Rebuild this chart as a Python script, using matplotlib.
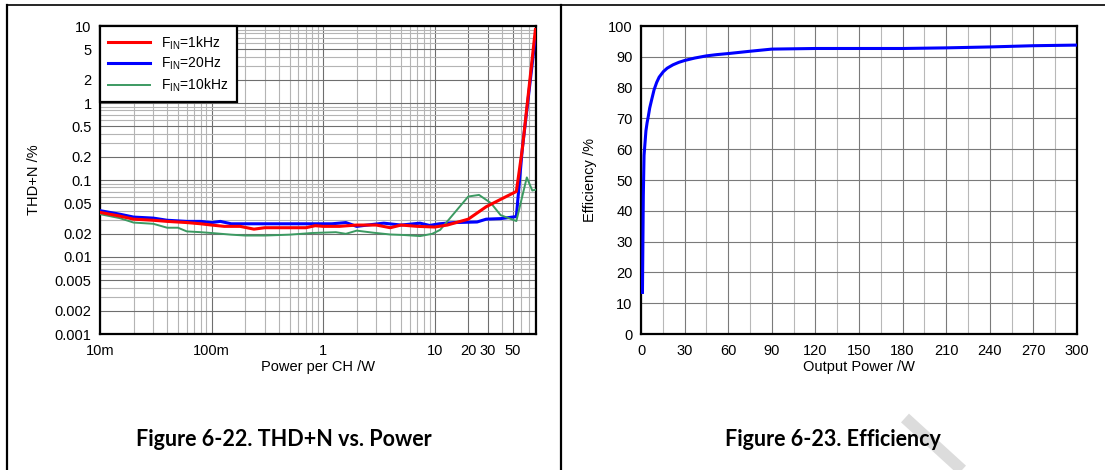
import matplotlib
matplotlib.use("Agg")
import matplotlib.pyplot as plt
from matplotlib.lines import Line2D
from matplotlib.ticker import FixedLocator, MultipleLocator, LogLocator, NullFormatter
import numpy as np

plt.rcParams['font.family'] = ['Liberation Sans', 'DejaVu Sans']

# THD+N vs power
p_1k = [0.01, 0.015, 0.02, 0.03, 0.04, 0.06, 0.08, 0.1, 0.13, 0.18, 0.24, 0.3, 0.4, 0.55,
        0.7, 0.85, 1.0, 1.4, 2.0, 3.0, 4.0, 5.0, 7.0, 10, 13, 20, 29, 39, 54, 61, 80]
thd_1k = [0.038, 0.034, 0.031, 0.030, 0.029, 0.028, 0.027, 0.026, 0.025, 0.025, 0.023, 0.024,
          0.024, 0.024, 0.024, 0.0255, 0.025, 0.025, 0.026, 0.026, 0.024, 0.026, 0.025, 0.0245,
          0.026, 0.031, 0.045, 0.056, 0.071, 0.25, 9.0]

p_20 = [0.01, 0.015, 0.02, 0.03, 0.04, 0.06, 0.08, 0.1, 0.12, 0.15, 0.2, 0.3, 0.5, 0.8, 1.2,
        1.6, 2.0, 2.5, 3.5, 5.0, 7.4, 9.0, 11, 15, 24, 29, 39, 54, 61, 81]
thd_20 = [0.040, 0.036, 0.033, 0.032, 0.030, 0.029, 0.029, 0.028, 0.029, 0.027, 0.027, 0.027,
          0.027, 0.027, 0.027, 0.028, 0.025, 0.026, 0.0275, 0.026, 0.0275, 0.0257, 0.027, 0.028,
          0.0285, 0.031, 0.0315, 0.0335, 0.25, 8.5]

p_10k = [0.01, 0.015, 0.02, 0.03, 0.04, 0.05, 0.06, 0.08, 0.1, 0.15, 0.2, 0.3, 0.5, 0.8, 1.3,
         1.6, 2.0, 2.8, 4.0, 5.3, 7.4, 9.5, 11.2, 12.9, 20, 25, 32, 39, 54, 67, 75, 81]
thd_10k = [0.036, 0.032, 0.028, 0.027, 0.024, 0.024, 0.0215, 0.021, 0.0205, 0.0195, 0.019,
           0.019, 0.0195, 0.0205, 0.021, 0.020, 0.022, 0.0207, 0.0196, 0.0193, 0.0187, 0.020,
           0.0225, 0.0287, 0.061, 0.064, 0.050, 0.035, 0.0293, 0.108, 0.073, 0.075]

thd_xticks = [0.01, 0.1, 1, 10, 20, 30, 50]
thd_xlabels = ['10m', '100m', '1', '10', '20', '30', '50']
thd_yticks = [10, 5, 2, 1, 0.5, 0.2, 0.1, 0.05, 0.02, 0.01, 0.005, 0.002, 0.001]
thd_ylabels = ['10', '5', '2', '1', '0.5', '0.2', '0.1', '0.05', '0.02', '0.01', '0.005',
               '0.002', '0.001']

# Efficiency vs output power
p_eff = [1.0, 1.6, 2.1, 3.4, 4.2, 5.0, 6.0, 7.3, 9.0, 10.8, 12.5, 15.4, 18, 22, 26, 30, 37,
         45, 52, 61, 75, 90, 120, 180, 210, 240, 270, 300]
eff = [13.5, 45, 58, 66, 68.6, 70.6, 73.4, 76, 79.3, 81.7, 83.4, 85.2, 86.3, 87.4, 88.2, 88.8,
       89.6, 90.3, 90.7, 91.1, 91.8, 92.5, 92.7, 92.7, 92.9, 93.2, 93.6, 93.8]

W, H = 1105, 470
fig = plt.figure(figsize=(W / 100, H / 100), dpi=100)

# ---- left: THD+N ----
ax1 = fig.add_axes([100 / W, 1 - 334 / H, 436 / W, 308 / H])
ax1.set_xscale('log')
ax1.set_yscale('log')
ax1.plot(p_1k, thd_1k, color='#ff0000', lw=2.2, label=r'F$_\mathregular{IN}$=1kHz', zorder=4)
ax1.plot(p_20, thd_20, color='#0000ff', lw=2.2, label=r'F$_\mathregular{IN}$=20Hz', zorder=3)
ax1.plot(p_10k, thd_10k, color='#3c9a62', lw=1.4, label=r'F$_\mathregular{IN}$=10kHz', zorder=3)
ax1.set_xlim(0.01, 81)
ax1.set_ylim(0.001, 10)
ax1.xaxis.set_major_locator(FixedLocator(thd_xticks))
ax1.set_xticklabels(thd_xlabels)
ax1.xaxis.set_minor_locator(LogLocator(base=10, subs=np.arange(2, 10)))
ax1.xaxis.set_minor_formatter(NullFormatter())
ax1.yaxis.set_major_locator(FixedLocator(thd_yticks))
ax1.set_yticklabels(thd_ylabels)
ax1.yaxis.set_minor_locator(LogLocator(base=10, subs=np.arange(2, 10)))
ax1.yaxis.set_minor_formatter(NullFormatter())
ax1.grid(True, which='major', color='#6e6e6e', lw=0.8)
ax1.grid(True, which='minor', color='#b4b4b4', lw=0.8)
ax1.set_xlabel('Power per CH /W', fontsize=10.5, labelpad=2)
ax1.set_ylabel('THD+N /%', fontsize=10.5, labelpad=10)
leg = ax1.legend(loc='upper left', bbox_to_anchor=(0, 1), borderaxespad=0, fancybox=False,
                 edgecolor='black', framealpha=1, fontsize=10, handlelength=3,
                 labelspacing=0.3, borderpad=0.6)
leg.get_frame().set_linewidth(1.6)

# ---- right: efficiency ----
ax2 = fig.add_axes([641 / W, 1 - 334 / H, 436 / W, 308 / H])
ax2.plot(p_eff, eff, color='#0000ff', lw=2.2, zorder=3)
ax2.set_xlim(0, 300)
ax2.set_ylim(0, 100)
ax2.xaxis.set_major_locator(MultipleLocator(30))
ax2.xaxis.set_minor_locator(MultipleLocator(15))
ax2.yaxis.set_major_locator(MultipleLocator(10))
ax2.grid(True, which='major', color='#7a7a7a', lw=0.8)
ax2.grid(True, which='minor', axis='x', color='#b8b8b8', lw=0.8)
ax2.set_xlabel('Output Power /W', fontsize=10.5, labelpad=2)
ax2.set_ylabel('Efficiency /%', fontsize=10.5, labelpad=8)

for ax in (ax1, ax2):
    ax.set_axisbelow(True)
    ax.tick_params(which='both', length=0, labelsize=10.5)
    ax.tick_params(axis='x', pad=7)
    ax.tick_params(axis='y', pad=6)
    for s in ax.spines.values():
        s.set_linewidth(1.6)
        s.set_color('black')

# table borders around the two figures
fig.add_artist(Line2D([7 / W, 1], [1 - 5 / H, 1 - 5 / H], color='black', lw=1.2))
fig.add_artist(Line2D([7 / W, 7 / W], [0, 1 - 5 / H], color='black', lw=1.6))
fig.add_artist(Line2D([561 / W, 561 / W], [0, 1 - 5 / H], color='black', lw=1.6))

# faint watermark stroke
fig.add_artist(Line2D([905 / W, 962 / W], [1 - 418 / H, 0], color='#dcdcdc', lw=8.5,
                      solid_capstyle='butt', zorder=0))

fig.text(284 / W, 1 - 440 / H, 'Figure 6-22. THD+N vs. Power', ha='center', va='center',
         fontsize=15.5, fontweight='bold', family=['Lato', 'DejaVu Sans'])
fig.text(833 / W, 1 - 440 / H, 'Figure 6-23. Efficiency', ha='center', va='center',
         fontsize=15.5, fontweight='bold', family=['Lato', 'DejaVu Sans'])

fig.savefig('out.png', dpi=100)
